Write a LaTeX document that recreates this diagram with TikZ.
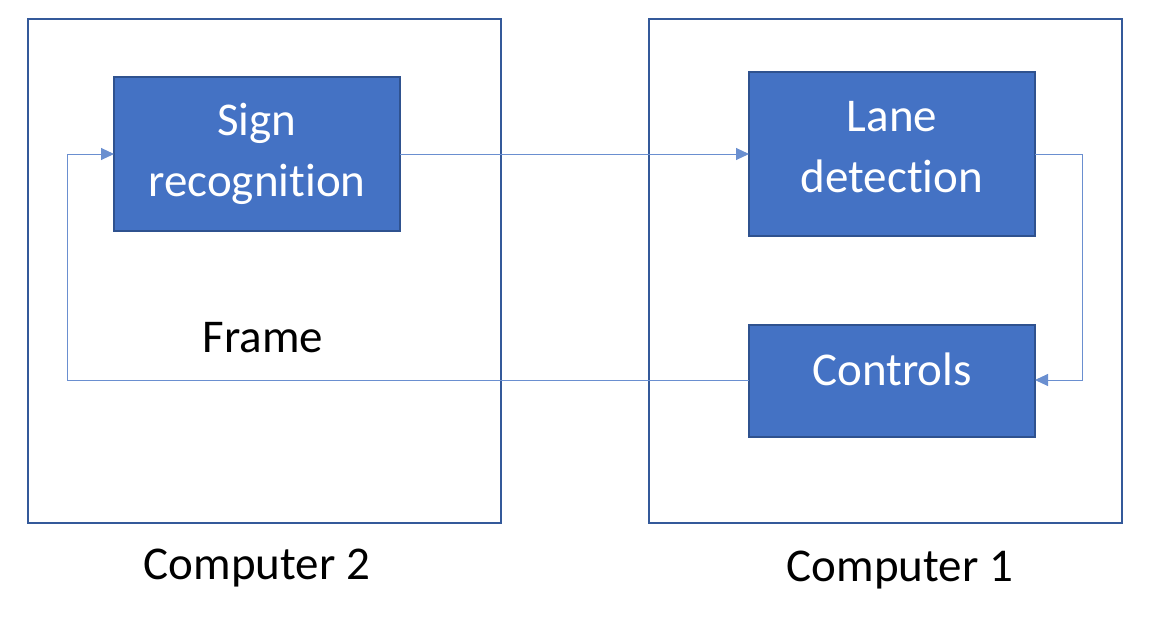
\documentclass[tikz,border=0pt]{standalone}
\usepackage{fontspec}
\setmainfont[RawFeature={-liga,-clig,-calt,-dlig}]{Carlito}
\usetikzlibrary{arrows.meta}
\definecolor{boxfill}{HTML}{4472C4}
\definecolor{boxline}{HTML}{2F528F}
\definecolor{frameline}{HTML}{34599A}
\definecolor{conn}{HTML}{6A8FD0}
\newcommand{\nolig}{\kern0pt }
\tikzset{
  box/.style={draw=boxline, line width=1.5pt, fill=boxfill, text=white, align=center,
    inner sep=0pt, outer sep=0pt, font=\fontsize{47}{61}\selectfont},
  frame/.style={draw=frameline, line width=2.4pt, inner sep=0pt, outer sep=0pt,
    minimum width=473pt, minimum height=504pt},
  lbl/.style={font=\fontsize{47}{56}\selectfont, anchor=base, inner sep=0pt},
  conn/.style={draw=conn, line width=1pt, -{Triangle[length=13pt,width=12pt]}}
}
\begin{document}
\begin{tikzpicture}[x=1pt,y=-1pt]
\useasboundingbox (0,0) rectangle (1163,619);
\node[frame] (c2) at (264.5,271) {};
\node[frame] (c1) at (885.5,271) {};
\node[box, minimum width=286pt, minimum height=154pt] (sign) at (257,154) {Sign\\recognit\nolig ion};
\node[box, minimum width=286pt, minimum height=164pt] (lane) at (892,154) {};
\node[box, minimum width=286pt, minimum height=112pt] (ctrl) at (892,381) {};
\node[box, draw=none, fill=none] (lanetxt) at (892,147) {Lane\\detect\nolig ion};
\node[lbl, text=white] (ctrltxt) at (892,385) {Controls};
\node[lbl] (frame) at (263,352) {Frame};
\node[lbl] (lc2) at (257,579) {Computer 2};
\node[lbl] (lc1) at (900,581) {Computer 1};
\coordinate (r1) at (1082,154);
\coordinate (r2) at (1082,380);
\coordinate (l1) at (67,380);
\coordinate (l2) at (67,154);
\draw[conn] (sign.east) -- (lane.west);
\draw[conn] (lane.east) -- (r1) -- (r2) -- (ctrl.east |- r2);
\draw[conn] (ctrl.west |- l1) -- (l1) -- (l2) -- (sign.west);
\end{tikzpicture}
\end{document}
